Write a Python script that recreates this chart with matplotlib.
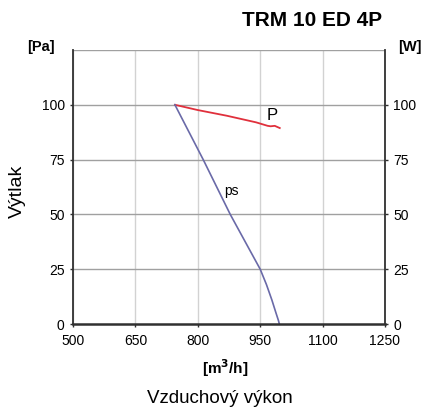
import matplotlib
matplotlib.use("Agg")
import matplotlib.pyplot as plt
import numpy as np

plt.rcParams['font.family'] = ['Liberation Sans', 'DejaVu Sans']

x_ticks = [500, 650, 800, 950, 1100, 1250]
y_ticks = [0, 25, 50, 75, 100]

p_x = [745, 800, 870, 940, 968, 975, 985, 997]
p_y = [100, 97.6, 95, 92, 90.4, 90.2, 90.4, 89.4]

ps_x = [745, 813, 878, 950, 965, 978, 988, 994, 996]
ps_y = [100, 75, 50, 25, 18, 11, 5, 1.5, 0]

fig = plt.figure(figsize=(4.27, 4.11), dpi=100)
ax = fig.add_axes([73/427, 1-324/411, (385-73)/427, (324-50)/411])
ax.set_xlim(500, 1250)
ax.set_ylim(0, 125)

for xv in x_ticks:
    ax.axvline(xv, color='#d2d2d2', lw=1.0, zorder=0)
for yv in [25, 50, 75, 100, 125]:
    ax.axhline(yv, color='#a0a0a0', lw=1.0, zorder=0)

ax.plot(p_x, p_y, color='#e0303c', lw=1.3)
ax.plot(ps_x, ps_y, color='#6a6aa8', lw=1.2)

ax.text(978, 95.3, 'P', fontsize=12, ha='center', va='center')
ax.text(882, 60.5, 'ps', fontsize=10, ha='center', va='center')

ax.spines['top'].set_visible(False)
for s in ['left', 'right', 'bottom']:
    ax.spines[s].set_color('#303030')
ax.spines['left'].set_linewidth(1.3)
ax.spines['right'].set_linewidth(1.3)
ax.spines['bottom'].set_linewidth(1.8)

ax.set_xticks(x_ticks)
ax.set_xticklabels([str(v) for v in x_ticks], fontsize=10)
ax.set_yticks(y_ticks)
ax.set_yticklabels([str(v) for v in y_ticks], fontsize=10)
ax.tick_params(axis='both', length=2, width=1, direction='out', color='#303030')
ax.tick_params(axis='x', pad=5)
ax.tick_params(axis='y', right=True, labelright=True, pad=4)

fig.text(312/427, 1-20/411, 'TRM 10 ED 4P', fontsize=15, fontweight='bold', ha='center', va='center')
fig.text(41/427, 1-47/411, '[Pa]', fontsize=10.5, fontweight='bold', ha='center', va='center')
fig.text(410/427, 1-47/411, '[W]', fontsize=10.5, fontweight='bold', ha='center', va='center')
fig.text(17/427, 1-191/411, 'Výtlak', fontsize=14, rotation=90, ha='center', va='center')
fig.text(225/427, 1-368/411, '[m$^\\mathbf{3}$/h]', fontsize=11, fontweight='bold', ha='center', va='center')
fig.text(220/427, 1-398/411, 'Vzduchový výkon', fontsize=13.5, ha='center', va='center')

fig.savefig('out.png', dpi=100, facecolor='white')
